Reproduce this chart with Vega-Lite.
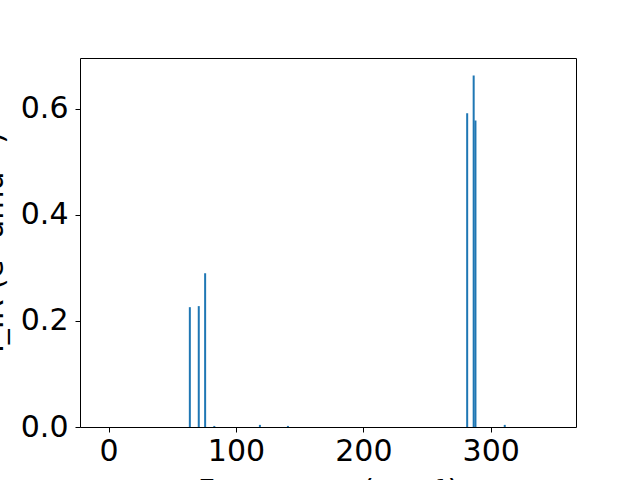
{
  "$schema": "https://vega.github.io/schema/vega-lite/v6.json",
  "width": 496,
  "height": 369,
  "autosize": {"type": "none"},
  "padding": {"left": 80, "top": 58, "right": 64, "bottom": 53},
  "background": "white",
  "config": {
    "view": {"stroke": "black", "strokeWidth": 1},
    "font": "DejaVu Sans",
    "axis": {"grid": false, "domain": false, "tickColor": "black", "tickSize": 5, "labelColor": "black", "titleColor": "black", "labelFont": "DejaVu Sans", "titleFont": "DejaVu Sans", "labelFontSize": 30, "titleFontSize": 30, "titleFontWeight": "normal", "labelPadding": 5}
  },
  "data": {
    "values": [
      {"freq": 63.8, "ir": 0.226},
      {"freq": 70.8, "ir": 0.228},
      {"freq": 75.8, "ir": 0.290},
      {"freq": 83.0, "ir": 0.002},
      {"freq": 118.8, "ir": 0.004},
      {"freq": 140.8, "ir": 0.002},
      {"freq": 281.5, "ir": 0.592},
      {"freq": 286.6, "ir": 0.663},
      {"freq": 288.0, "ir": 0.578},
      {"freq": 311.0, "ir": 0.004}
    ]
  },
  "mark": {"type": "bar", "size": 2, "color": "#1f77b4", "clip": true},
  "encoding": {
    "x": {
      "field": "freq", "type": "quantitative",
      "scale": {"domain": [-18.5, 363], "nice": false, "zero": false},
      "axis": {"values": [0, 100, 200, 300], "title": "Frequency (cm⁻¹)", "titleX": 248, "titleY": 49, "titleBaseline": "top", "titleAnchor": null, "labelFlush": false, "labelPadding": 4}
    },
    "y": {
      "field": "ir", "type": "quantitative",
      "scale": {"domain": [0, 0.696], "nice": false},
      "axis": {"values": [0, 0.2, 0.4, 0.6], "format": ".1f", "title": "I_IR (e² amu⁻¹)", "titleX": -72, "titleY": 184, "titleBaseline": "bottom", "titleAngle": -90, "titleAlign": "center", "labelFlush": false, "labelPadding": 7}
    }
  }
}
